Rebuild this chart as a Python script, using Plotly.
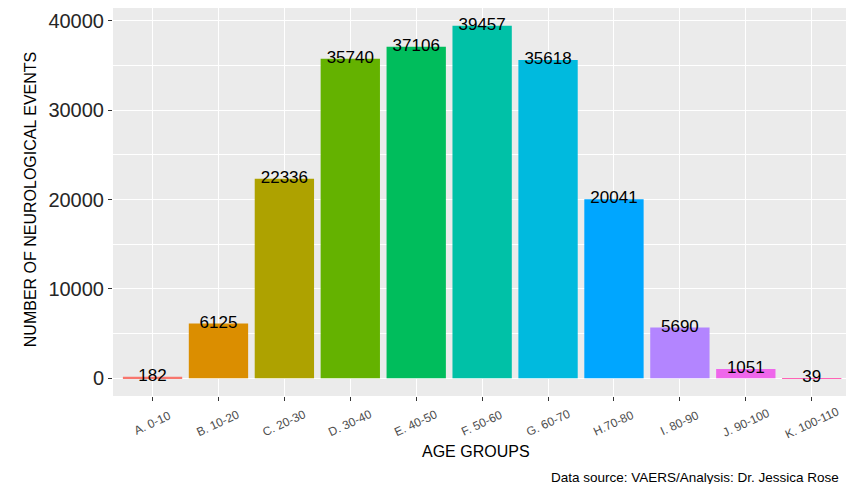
import plotly.graph_objects as go

categories = ["A. 0-10", "B. 10-20", "C. 20-30", "D. 30-40", "E. 40-50", "F. 50-60",
              "G. 60-70", "H.70-80", "I. 80-90", "J. 90-100", "K. 100-110"]
values = [182, 6125, 22336, 35740, 37106, 39457, 35618, 20041, 5690, 1051, 39]
colors = ["#F8766D", "#DB8E00", "#AEA200", "#64B200", "#00BD5C", "#00C1A7",
          "#00BADE", "#00A6FF", "#B385FF", "#EF67EB", "#FF63B6"]
y_ticks = [0, 10000, 20000, 30000, 40000]

font_family = "Liberation Sans, Arial, sans-serif"

fig = go.Figure()
fig.add_trace(go.Bar(x=categories, y=values, marker=dict(color=colors, line=dict(width=0)),
                     width=0.9, showlegend=False, hoverinfo="x+y"))
fig.add_trace(go.Scatter(x=categories, y=values, mode="text", text=[str(v) for v in values],
                         textposition="middle center",
                         textfont=dict(size=17, color="#000000", family=font_family),
                         showlegend=False, hoverinfo="skip"))

fig.update_layout(
    width=846, height=484,
    margin=dict(l=113, r=0, t=8, b=88, autoexpand=False),
    paper_bgcolor="white", plot_bgcolor="#EBEBEB",
    font=dict(family=font_family, color="#333333"),
    bargap=0.1,
)
fig.update_xaxes(
    type="category", range=[-0.6, 10.52], automargin=False,
    showgrid=True, gridcolor="white", gridwidth=1.2,
    ticks="outside", ticklen=4, tickcolor="#333333", tickwidth=1,
    showticklabels=False,
    showline=False, zeroline=False,
)
fig.update_yaxes(
    range=[-1973, 41430], automargin=False,
    tickvals=y_ticks, ticktext=[str(t) for t in y_ticks],
    showgrid=True, gridcolor="white", gridwidth=1.2,
    minor=dict(dtick=5000, tick0=0, showgrid=True, gridcolor="white", gridwidth=0.5, ticks=""),
    ticks="outside", ticklen=4, tickcolor="#333333", tickwidth=1,
    tickfont=dict(size=20, color="#262626"),
    showline=False, zeroline=False,
)

# rotated category labels centred under each tick (ggplot style)
for c in categories:
    fig.add_annotation(text=c, x=c, xref="x", yref="paper", y=-0.0696,
                       textangle=-25, showarrow=False, xanchor="center", yanchor="middle",
                       font=dict(size=12, color="#4D4D4D"))

fig.add_annotation(text="AGE GROUPS", xref="paper", yref="paper", x=0.495, y=-0.144,
                   showarrow=False, xanchor="center", yanchor="middle",
                   font=dict(size=16, color="#000000"))
fig.add_annotation(text="NUMBER OF NEUROLOGICAL EVENTS", xref="paper", yref="paper",
                   x=-0.113, y=0.505, textangle=-90, showarrow=False,
                   xanchor="center", yanchor="middle",
                   font=dict(size=16, color="#000000"))
fig.add_annotation(text="Data source: VAERS/Analysis: Dr. Jessica Rose", xref="paper", yref="paper",
                   x=0.595, y=-0.209, showarrow=False, xanchor="left", yanchor="middle",
                   font=dict(size=13.5, color="#000000"))

fig.write_html("out.html", config={"displayModeBar": False},
               post_script="document.body.style.margin='0';document.body.style.overflow='hidden';")
